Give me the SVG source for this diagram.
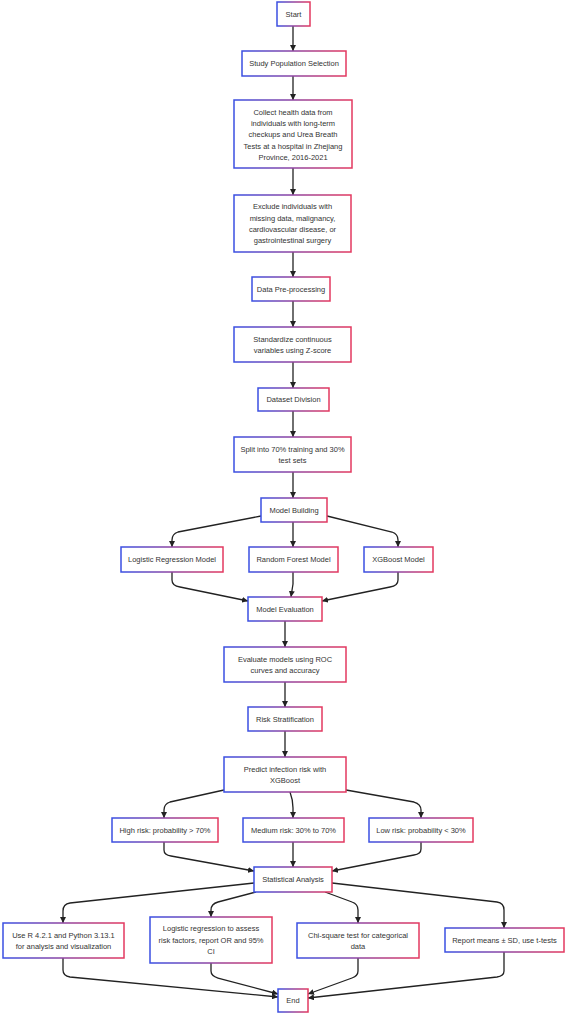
<svg xmlns="http://www.w3.org/2000/svg" width="567" height="1016" viewBox="0 0 567 1016">
<defs>
<linearGradient id="bg" x1="0" y1="0" x2="1" y2="0">
<stop offset="0" stop-color="#3a4fe2"/>
<stop offset="1" stop-color="#e3385f"/>
</linearGradient>
<marker id="ah" viewBox="0 0 6 6" refX="6" refY="3" markerWidth="6" markerHeight="6" markerUnits="userSpaceOnUse" orient="auto">
<path d="M0,0 L6,3 L0,6 z" fill="#222"/>
</marker>
<style>
.n rect{fill:#ffffff;stroke:url(#bg);stroke-width:1.5}
.n text{font-family:"Liberation Sans",Arial,sans-serif;font-size:7.5px;fill:#333;text-anchor:middle}
#connectors path{fill:none;stroke:#222;stroke-width:1.3;marker-end:url(#ah)}
</style>
</defs>
<rect width="567" height="1016" fill="#ffffff"/>
<g id="connectors">
<path d="M293,26 L293,51"/>
<path d="M293,76 L293,100"/>
<path d="M293,168 L293,195"/>
<path d="M293,252 L293,277"/>
<path d="M293,301 L293,327"/>
<path d="M293,362 L293,388"/>
<path d="M293,411 L293,437"/>
<path d="M293,472 L293,498"/>
<path d="M261,516 L178,532 Q172,534 172,540 L172,547"/>
<path d="M293,522 L293,547"/>
<path d="M327,516 L392,532 Q398,534 398,540 L398,547"/>
<path d="M172,572 L172,580 Q172,586 180,587 L248,601"/>
<path d="M293,572 L293,584 Q292,590 291,597"/>
<path d="M398,572 L398,580 Q398,586 390,587 L322,601"/>
<path d="M285,621 L285,647"/>
<path d="M285,682 L285,707"/>
<path d="M285,731 L285,757"/>
<path d="M224,790 L170,802 Q164,804 164,810 L164,818"/>
<path d="M290,792 Q293,800 293,808 L293,818"/>
<path d="M346,790 L414,802 Q421,804 421,810 L421,818"/>
<path d="M164,842 L164,850 Q164,855 171,856 L254,871"/>
<path d="M293,842 L293,867"/>
<path d="M421,842 L421,849 Q421,854 414,855 L332,871"/>
<path d="M254,883 L70,903 Q63,904 63,911 L63,923"/>
<path d="M256,892 L218,902 Q211,904 211,910 L211,917"/>
<path d="M325,892 L352,902 Q358,904 358,910 L358,923"/>
<path d="M332,883 L497,902 Q504,903 504,910 L504,928"/>
<path d="M63,958 L63,970 Q63,976 70,977 L278,997"/>
<path d="M211,963 L211,971 Q211,976 218,978 L278,994"/>
<path d="M358,958 L358,971 Q358,976 352,978 L308,994"/>
<path d="M504,952 L504,971 Q504,976 497,977 L308,998"/>
</g>
<g id="start" class="n"><rect x="277" y="2" width="33" height="24"/><text x="293.5" y="16.7">Start</text></g>
<g id="study" class="n"><rect x="242" y="51" width="104" height="25"/><text x="294" y="66.2">Study Population Selection</text></g>
<g id="collect" class="n"><rect x="234" y="100" width="118" height="68"/>
<text x="293" y="114.6">Collect health data from</text>
<text x="293" y="125.9">individuals with long-term</text>
<text x="293" y="137.2">checkups and Urea Breath</text>
<text x="293" y="148.5">Tests at a hospital in Zhejiang</text>
<text x="293" y="159.8">Province, 2016-2021</text></g>
<g id="exclude" class="n"><rect x="234" y="195" width="117" height="57"/>
<text x="292.5" y="209.3">Exclude individuals with</text>
<text x="292.5" y="220.6">missing data, malignancy,</text>
<text x="292.5" y="231.9">cardiovascular disease, or</text>
<text x="292.5" y="243.2">gastrointestinal surgery</text></g>
<g id="datapre" class="n"><rect x="252" y="277" width="78" height="24"/><text x="291" y="291.7">Data Pre-processing</text></g>
<g id="standardize" class="n"><rect x="234" y="327" width="117" height="35"/>
<text x="292.5" y="341.6">Standardize continuous</text>
<text x="292.5" y="352.9">variables using Z-score</text></g>
<g id="dataset" class="n"><rect x="258" y="388" width="71" height="23"/><text x="293.5" y="402.2">Dataset Division</text></g>
<g id="split" class="n"><rect x="234" y="437" width="117" height="35"/>
<text x="292.5" y="451.6">Split into 70% training and 30%</text>
<text x="292.5" y="462.9">test sets</text></g>
<g id="modelbuilding" class="n"><rect x="261" y="498" width="66" height="24"/><text x="294" y="512.7">Model Building</text></g>
<g id="lr" class="n"><rect x="121" y="547" width="102" height="25"/><text x="172" y="562.2">Logistic Regression Model</text></g>
<g id="rf" class="n"><rect x="249" y="547" width="89" height="25"/><text x="293.5" y="562.2">Random Forest Model</text></g>
<g id="xgb" class="n"><rect x="364" y="547" width="69" height="25"/><text x="398.5" y="562.2">XGBoost Model</text></g>
<g id="modeleval" class="n"><rect x="248" y="597" width="74" height="24"/><text x="285" y="611.7">Model Evaluation</text></g>
<g id="evaluate" class="n"><rect x="224" y="647" width="122" height="35"/>
<text x="285" y="661.6">Evaluate models using ROC</text>
<text x="285" y="672.9">curves and accuracy</text></g>
<g id="riskstrat" class="n"><rect x="248" y="707" width="74" height="24"/><text x="285" y="721.7">Risk Stratification</text></g>
<g id="predict" class="n"><rect x="224" y="757" width="122" height="35"/>
<text x="285" y="771.6">Predict infection risk with</text>
<text x="285" y="782.9">XGBoost</text></g>
<g id="high" class="n"><rect x="112" y="818" width="106" height="24"/><text x="165" y="832.7">High risk: probability &gt; 70%</text></g>
<g id="medium" class="n"><rect x="243" y="818" width="101" height="24"/><text x="293.5" y="832.7">Medium risk: 30% to 70%</text></g>
<g id="low" class="n"><rect x="369" y="818" width="104" height="24"/><text x="421" y="832.7">Low risk: probability &lt; 30%</text></g>
<g id="stat" class="n"><rect x="254" y="867" width="78" height="25"/><text x="293" y="882.2">Statistical Analysis</text></g>
<g id="user" class="n"><rect x="3" y="923" width="121" height="35"/>
<text x="63.5" y="937.6">Use R 4.2.1 and Python 3.13.1</text>
<text x="63.5" y="948.9">for analysis and visualization</text></g>
<g id="logreg" class="n"><rect x="150" y="917" width="122" height="46"/>
<text x="211" y="931.4">Logistic regression to assess</text>
<text x="211" y="942.7">risk factors, report OR and 95%</text>
<text x="211" y="954">CI</text></g>
<g id="chi" class="n"><rect x="297" y="923" width="122" height="35"/>
<text x="358" y="937.6">Chi-square test for categorical</text>
<text x="358" y="948.9">data</text></g>
<g id="report" class="n"><rect x="445" y="928" width="119" height="24"/><text x="504.5" y="942.7">Report means ± SD, use t-tests</text></g>
<g id="end" class="n"><rect x="278" y="989" width="30" height="23"/><text x="293" y="1003.2">End</text></g>
</svg>
